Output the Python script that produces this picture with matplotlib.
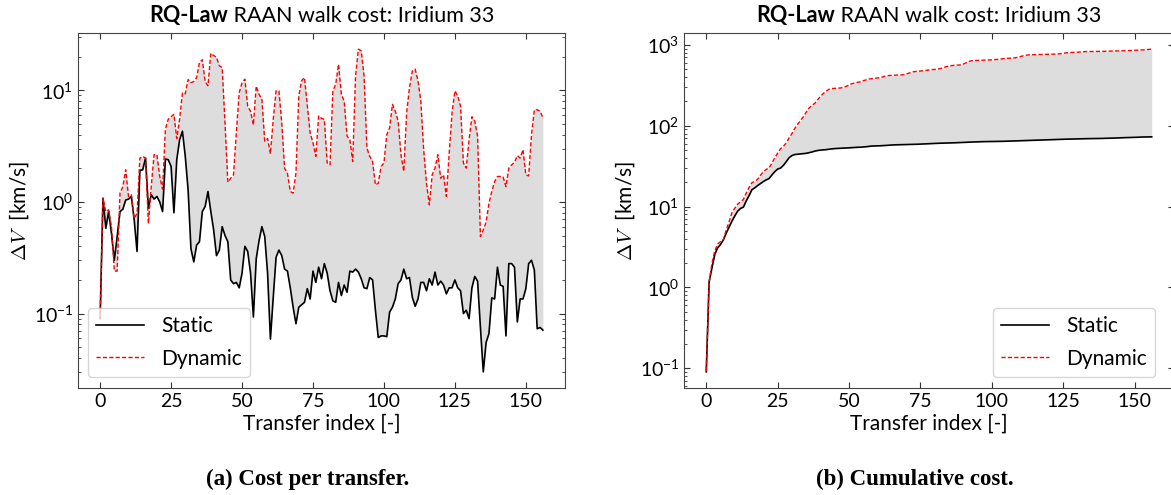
import numpy as np
import matplotlib
matplotlib.use("Agg")
import matplotlib.pyplot as plt
from matplotlib.transforms import offset_copy

# per-transfer delta-V [km/s]
static_dv = [
    0.09, 1.08, 0.58, 0.82, 0.52, 0.30, 0.49, 0.82, 0.86, 1.04,
    1.06, 1.12, 0.69, 0.36, 1.92, 1.94, 2.47, 0.88, 1.16, 1.06,
    1.12, 1.00, 0.82, 2.42, 2.39, 2.08, 0.80, 2.39, 3.60, 4.30,
    2.56, 1.28, 0.38, 0.29, 0.41, 0.44, 0.82, 0.91, 1.24, 0.82,
    0.56, 0.33, 0.37, 0.60, 0.50, 0.44, 0.20, 0.185, 0.19, 0.17,
    0.23, 0.40, 0.36, 0.23, 0.093, 0.31, 0.45, 0.60, 0.49, 0.23,
    0.059, 0.14, 0.32, 0.37, 0.33, 0.25, 0.24, 0.17, 0.114, 0.081,
    0.114, 0.12, 0.126, 0.167, 0.135, 0.24, 0.19, 0.26, 0.205, 0.28,
    0.23, 0.16, 0.13, 0.126, 0.19, 0.145, 0.18, 0.155, 0.24, 0.235,
    0.25, 0.235, 0.205, 0.17, 0.167, 0.21, 0.20, 0.107, 0.061, 0.063,
    0.063, 0.062, 0.103, 0.114, 0.135, 0.185, 0.20, 0.25, 0.205, 0.21,
    0.14, 0.116, 0.135, 0.19, 0.19, 0.16, 0.205, 0.18, 0.235, 0.18,
    0.195, 0.18, 0.15, 0.17, 0.17, 0.20, 0.17, 0.16, 0.10, 0.107,
    0.09, 0.17, 0.215, 0.195, 0.075, 0.03, 0.055, 0.066, 0.138, 0.135,
    0.26, 0.18, 0.175, 0.063, 0.28, 0.28, 0.26, 0.084, 0.135, 0.135,
    0.167, 0.28, 0.30, 0.245, 0.073, 0.075, 0.071,
]
dynamic_dv = [
    0.093, 1.08, 0.82, 0.85, 0.60, 0.24, 0.24, 1.20, 1.37, 1.94,
    1.12, 1.16, 0.71, 0.79, 2.47, 2.56, 2.47, 0.64, 1.37, 2.65,
    2.65, 1.69, 1.30, 4.5, 5.5, 5.8, 6.1, 3.7, 5.5, 9.5,
    9.3, 12.5, 11.7, 12.0, 13.0, 17.8, 18.8, 12.0, 11.0, 21.5,
    20.5, 19.8, 16.6, 16.0, 5.1, 1.5, 1.63, 1.75, 4.2, 9.5,
    11.7, 12.6, 7.2, 6.5, 4.9, 10.9, 9.2, 8.3, 3.5, 3.7,
    2.7, 5.5, 9.9, 9.9, 5.1, 2.0, 1.81, 1.24, 1.20, 1.81,
    8.9, 12.2, 13.0, 7.3, 4.15, 3.4, 2.56, 5.9, 5.6, 5.5,
    2.23, 2.15, 9.9, 11.3, 17.1, 9.2, 8.0, 3.9, 3.6, 2.3,
    13.5, 23.4, 22.6, 13.5, 3.04, 2.56, 2.3, 1.42, 1.47, 2.08,
    2.23, 4.0, 4.6, 7.5, 6.5, 5.3, 2.65, 1.88, 6.3, 10.6,
    14.9, 15.5, 12.2, 8.0, 2.94, 1.47, 0.94, 1.75, 2.01, 2.65,
    1.63, 1.75, 1.12, 2.74, 6.3, 9.9, 8.9, 7.2, 2.23, 2.01,
    3.6, 5.8, 5.3, 3.9, 0.49, 0.56, 0.66, 0.97, 1.24, 1.52,
    1.69, 1.69, 1.67, 1.37, 2.01, 2.15, 2.26, 2.6, 2.47, 2.94,
    1.75, 1.71, 4.0, 6.7, 6.7, 6.5, 5.7,
]

idx = np.arange(len(static_dv))
static_cum = np.cumsum(static_dv)
dynamic_cum = np.cumsum(dynamic_dv)

plt.rcParams['font.family'] = ['Lato', 'DejaVu Sans']
plt.rcParams['xtick.direction'] = 'in'
plt.rcParams['ytick.direction'] = 'in'
plt.rcParams['xtick.top'] = True
plt.rcParams['ytick.right'] = True

fig = plt.figure(figsize=(11.71, 4.95), dpi=100)
ax1 = fig.add_axes([78 / 1171, 107 / 495, 487 / 1171, 355 / 495])
ax2 = fig.add_axes([684 / 1171, 107 / 495, 490 / 1171, 355 / 495])


def bold_title(ax, bold, rest, size=15.5):
    r = fig.canvas.get_renderer()
    t1 = ax.text(0.5, 1.0, bold, transform=ax.transAxes, fontsize=size,
                 weight='bold', ha='left', va='baseline')
    t2 = ax.text(0.5, 1.0, ' ' + rest, transform=ax.transAxes, fontsize=size,
                 ha='left', va='baseline')
    w1 = t1.get_window_extent(r).width
    w2 = t2.get_window_extent(r).width
    start = -(w1 + w2) / 2
    t1.set_transform(offset_copy(ax.transAxes, fig, x=start, y=11, units='dots'))
    t2.set_transform(offset_copy(ax.transAxes, fig, x=start + w1, y=11, units='dots'))


panels = [(ax1, static_dv, dynamic_dv, 'lower left', (10 / 487, 11 / 355)),
          (ax2, static_cum, dynamic_cum, 'lower right', (471 / 490, 11 / 355))]
for ax, s, d, loc, anchor in panels:
    ax.fill_between(idx, s, d, color='#dddddd', lw=0)
    ax.plot(idx, s, color='black', lw=1.2, label='Static')
    ax.plot(idx, d, color='red', lw=1.0, ls=(0, (3, 1.6)), label='Dynamic')
    ax.set_yscale('log')
    ax.set_xticks([0, 25, 50, 75, 100, 125, 150])
    ax.tick_params(labelsize=14, colors='#333333', length=4.5)
    ax.tick_params(which='minor', length=2.5, colors='#333333')
    ax.tick_params(labelcolor='black')
    for sp in ax.spines.values():
        sp.set_color('#444444')
    ax.set_xlabel('Transfer index [-]', fontsize=15, labelpad=3)
    ax.set_ylabel(r'$\Delta V\ $ [km/s]', fontsize=15, math_fontfamily='cm', labelpad=2)
    ax.legend(loc=loc, bbox_to_anchor=anchor, borderaxespad=0, fontsize=15,
              handlelength=2.3, labelspacing=0.6)
    bold_title(ax, 'RQ-Law', 'RAAN walk cost: Iridium 33')

fig.text(308 / 1171, 0.032, '(a) Cost per transfer.', ha='center', va='center',
         fontsize=16.5, weight='bold', family='Liberation Serif')
fig.text(915 / 1171, 0.032, '(b) Cumulative cost.', ha='center', va='center',
         fontsize=16.5, weight='bold', family='Liberation Serif')

fig.savefig('out.png', dpi=100)
